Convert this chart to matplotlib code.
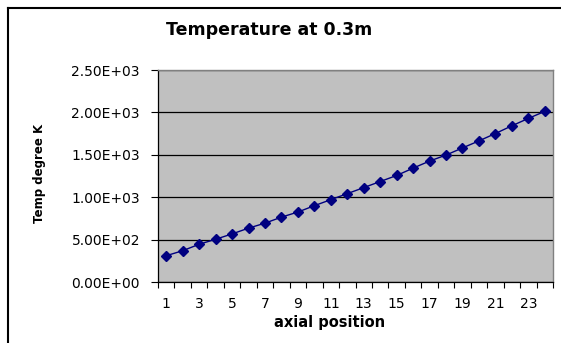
import numpy as np
import matplotlib
matplotlib.use("Agg")
import matplotlib.pyplot as plt
from matplotlib.ticker import FixedLocator, FuncFormatter

# ── Data ──────────────────────────────────────────────────────────────────────
positions = list(range(1, 25))
temps = [310, 369, 445, 504, 567, 635, 694, 765, 825, 900, 971, 1042,
         1113, 1185, 1256, 1343, 1426, 1497, 1581, 1664, 1751, 1842, 1929, 2012]
y_ticks = [0, 500, 1000, 1500, 2000, 2500]
x_labels = [str(p) for p in positions[::2]]

# ── Plot ──────────────────────────────────────────────────────────────────────
plt.rcParams["font.family"] = ["DejaVu Sans"]
fig = plt.figure(figsize=(5.61, 3.43), dpi=100)
ax = fig.add_axes([158 / 561, 1 - 282 / 343, (553 - 158) / 561, (282 - 70) / 343])

# outer chart frame (left + top only visible)
fig.add_artist(plt.Line2D([8 / 561, 8 / 561], [0, 1 - 8 / 343], transform=fig.transFigure,
                          color="black", lw=1.5))
fig.add_artist(plt.Line2D([8 / 561, 1], [1 - 8 / 343, 1 - 8 / 343], transform=fig.transFigure,
                          color="black", lw=1.5))

ax.set_facecolor("#c0c0c0")
ax.plot(positions, temps, color="#000080", lw=1.0, marker="D", markersize=4.8,
        markerfacecolor="#000080", markeredgecolor="#000080", zorder=3)

ax.set_xlim(0.5, 24.5)
ax.set_ylim(0, 2500)
ax.set_yticks(y_ticks)
ax.yaxis.set_major_formatter(FuncFormatter(lambda v, p: f"{v:.2E}"))
ax.yaxis.grid(True, color="black", lw=0.9)
ax.set_axisbelow(True)

# category axis: ticks between categories, labels on every other category
ax.xaxis.set_major_locator(FixedLocator(np.arange(0.5, 25, 1)))
ax.xaxis.set_major_formatter(FuncFormatter(lambda v, p: ""))
ax.xaxis.set_minor_locator(FixedLocator(positions[::2]))
ax.set_xticklabels(x_labels, minor=True)
ax.tick_params(axis="x", which="minor", length=0, pad=11, labelsize=10)
ax.tick_params(axis="x", which="major", length=4, direction="out", width=0.8)
ax.tick_params(axis="y", length=5, direction="out", width=0.8, labelsize=10, pad=8)

for side in ("top", "right"):
    ax.spines[side].set_color("#808080")
    ax.spines[side].set_linewidth(1.0)
for side in ("left", "bottom"):
    ax.spines[side].set_color("black")
    ax.spines[side].set_linewidth(0.9)

ax.set_xlabel("axial position", fontsize=10.5, fontweight="bold")
ax.xaxis.set_label_coords((330 - 158) / (553 - 158), -(315 - 282) / (282 - 70))
ax.set_ylabel("Temp degree K", fontsize=8.5, fontweight="bold")
ax.yaxis.set_label_coords(-(158 - 46) / (553 - 158), (282 - 173) / (282 - 70))
fig.text(269 / 561, 1 - 30 / 343, "Temperature at 0.3m", ha="center", va="center",
         fontsize=12.5, fontweight="bold")

plt.savefig("out.png", dpi=100)
